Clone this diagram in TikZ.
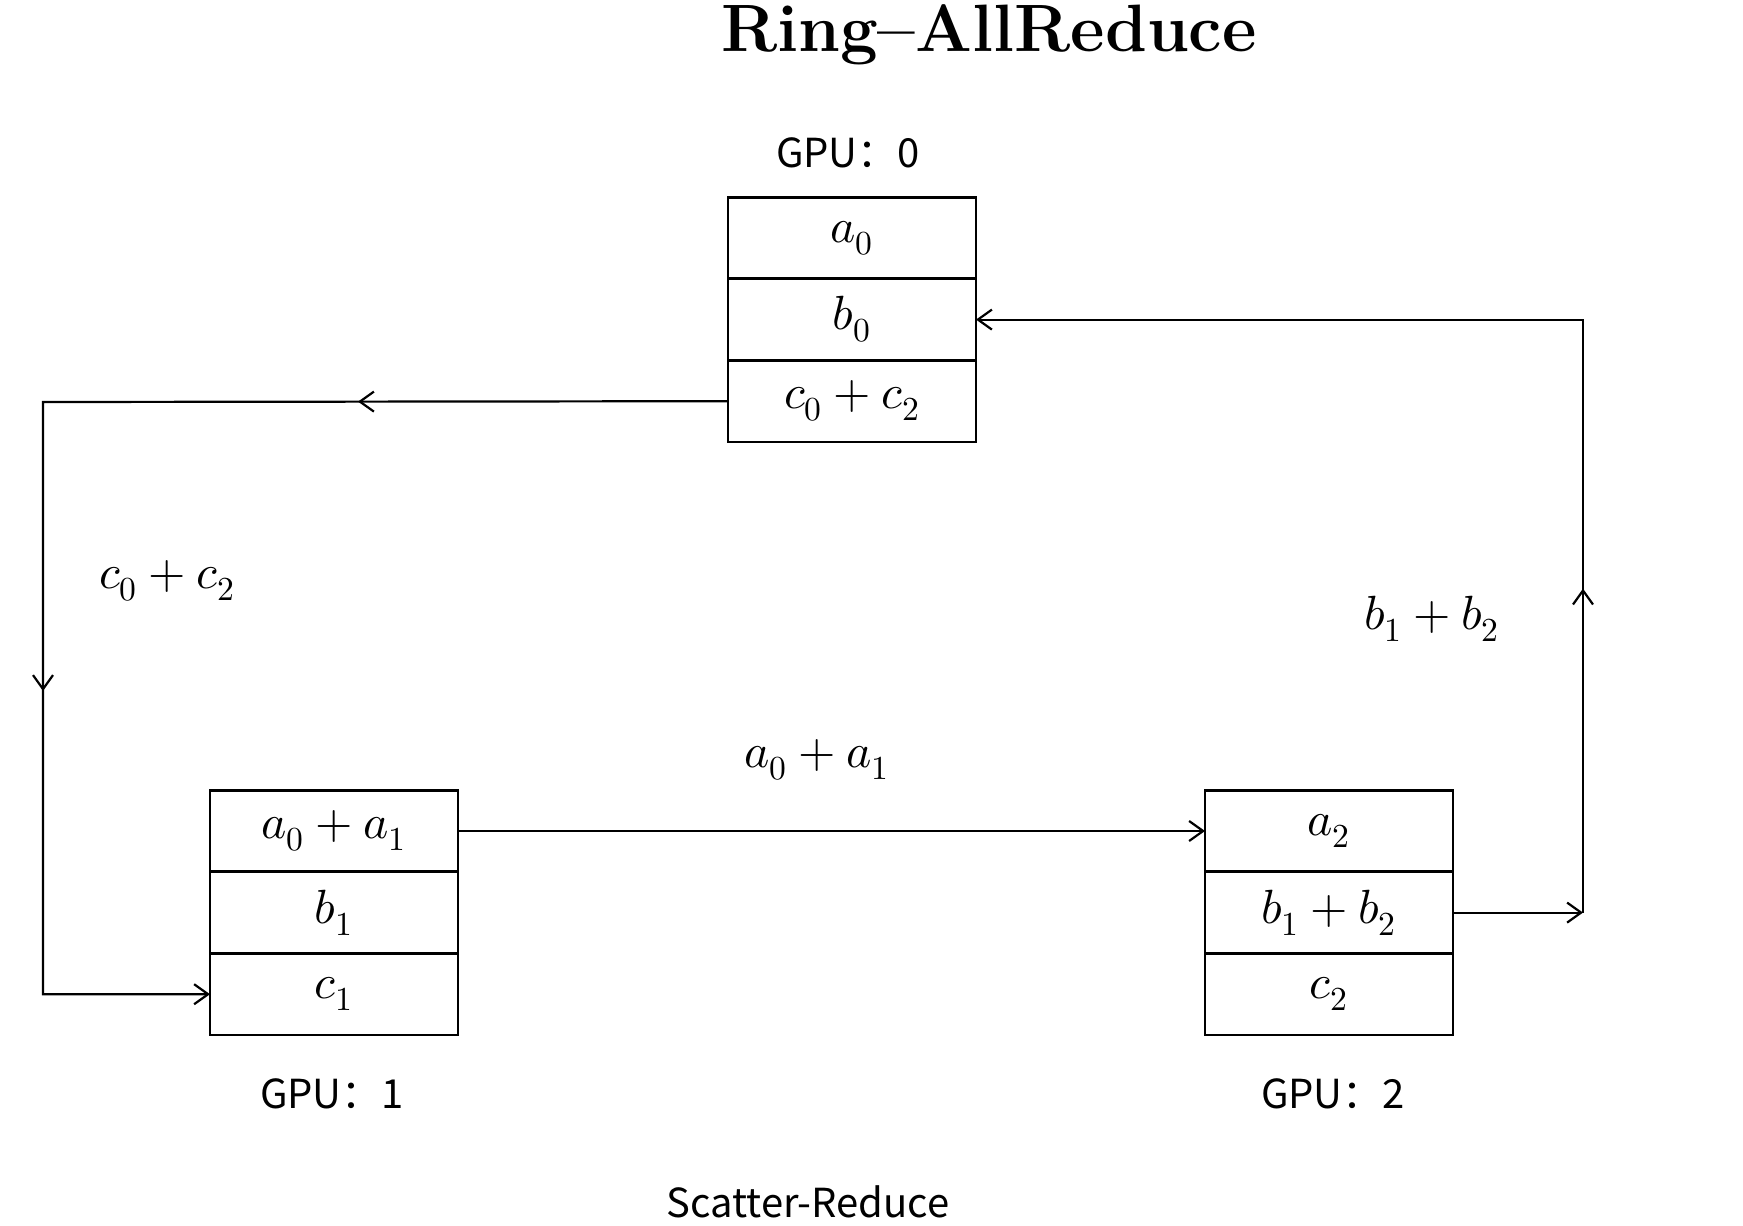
\documentclass[tikz,border=0pt]{standalone}
\usepackage{fontspec}
\usepackage{unicode-math}
\newfontfamily\cjk{Noto Sans CJK SC}
\usetikzlibrary{positioning,arrows.meta,decorations.markings}
\tikzset{
  barb/.tip={Straight Barb[length=7pt,width=10pt]},
  cell/.style={draw,line width=1.4pt,minimum width=124pt,minimum height=40.8pt,
    inner sep=0pt,outer sep=0pt,font=\fontsize{24}{28}\selectfont},
  lbl/.style={font=\fontsize{24}{28}\selectfont},
  gpu/.style={font=\cjk\fontsize{20}{24}\selectfont},
  flow/.style={line width=1.1pt,-barb},
  midtip/.style={postaction={decorate},decoration={markings,
    mark=at position #1 with {\arrow{barb}}}},
  midtips/.style 2 args={postaction={decorate},decoration={markings,
    mark=at position #1 with {\arrow{barb}},
    mark=at position #2 with {\arrow{barb}}}}
}
\begin{document}
\begin{tikzpicture}[x=0.5pt,y=-0.5pt]
  \useasboundingbox (0,0) rectangle (1743,1225);
  \node[anchor=base,inner sep=0pt,font=\bfseries\fontsize{33.5}{36}\selectfont] (title) at (989,52)
    {Ring--AllReduce};
  \begin{scope}[every node/.style={cell}]
    \node (g0a) at (852,238) {$a_0$};
    \node[below=0pt of g0a] (g0b) {$b_0$};
    \node[below=0pt of g0b] (g0c) {$c_0+c_2$};
    \node (g1a) at (334,831) {$a_0+a_1$};
    \node[below=0pt of g1a] (g1b) {$b_1$};
    \node[below=0pt of g1b] (g1c) {$c_1$};
    \node (g2a) at (1329,831) {$a_2$};
    \node[below=0pt of g2a] (g2b) {$b_1+b_2$};
    \node[below=0pt of g2b] (g2c) {$c_2$};
  \end{scope}
  \begin{scope}[every node/.style={gpu}]
    \node (n0) at (848,153) {GPU：0};
    \node (n1) at (332,1094) {GPU：1};
    \node (n2) at (1333,1094) {GPU：2};
    \node (cap) at (808,1202) {Scatter-Reduce};
  \end{scope}
  \node[lbl] (lc) at (167,581) {$c_0+c_2$};
  \node[lbl] (la) at (817,760) {$a_0+a_1$};
  \node[lbl] (lb) at (1432,619) {$b_1+b_2$};
  \coordinate (lt) at (43,402);
  \coordinate (rc) at ([xshift=65pt]g2b.east);
  \draw[flow,midtips={185pt}{487pt}] (g0c.west) -- (lt) |- (g1c.west);
  \draw[flow] (g1a.east) -- (g2a.west);
  \draw[flow] (g2b.east) -- (rc);
  \draw[flow,midtip=162pt] (rc) |- (g0b.east);
\end{tikzpicture}
\end{document}
